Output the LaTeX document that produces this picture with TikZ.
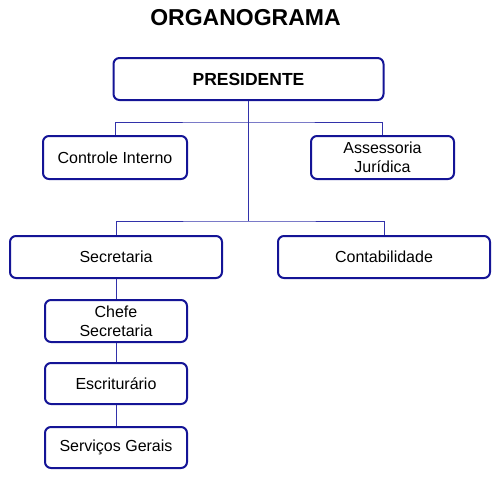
\documentclass[tikz,border=0pt]{standalone}
\usepackage{fontspec}
\setmainfont{Liberation Sans}
\definecolor{boxblue}{RGB}{20,20,150}
\definecolor{lineblue}{RGB}{50,50,170}
\begin{document}
\begin{tikzpicture}[x=1pt,y=-1pt,
  box/.style={draw=boxblue,line width=2pt,rounded corners=6pt,fill=white,
    inner sep=0pt,align=center,font=\fontsize{16}{19}\selectfont},
  conn/.style={draw=lineblue,line width=1pt}]
\useasboundingbox (0,0) rectangle (500,479);
\node[font=\fontsize{23}{26}\selectfont\bfseries] (title) at (245.5,17.5) {ORGANOGRAMA};
\node[box,minimum width=270pt,minimum height=42pt,font=\fontsize{17.5}{20}\selectfont\bfseries] (pres) at (248.5,79) {PRESIDENTE};
\node[box,minimum width=144pt,minimum height=43pt] (ctrl) at (115,157.5) {Controle Interno};
\node[box,minimum width=143pt,minimum height=43pt] (assess) at (382.5,157.5) {Assessoria\\Jurídica};
\node[box,minimum width=212pt,minimum height=42pt] (sec) at (116,257) {Secretaria};
\node[box,minimum width=212pt,minimum height=42pt] (cont) at (384,257) {Contabilidade};
\node[box,minimum width=142pt,minimum height=42pt] (chefe) at (116,321) {Chefe\\Secretaria};
\node[box,minimum width=142pt,minimum height=41pt] (escr) at (116,383.5) {Escriturário};
\node[box,minimum width=142pt,minimum height=41pt] (serv) at (116,447.5) {Serviços Gerais};
\coordinate (j1) at (248.5,122);
\coordinate (j2) at (248.5,221);
\begin{scope}[on background layer/.try]
\end{scope}
\draw[conn] (pres.south) -- (j2);
\draw[conn] (ctrl.north) |- (j1) -| (assess.north);
\draw[conn] (sec.north) |- (j2) -| (cont.north);
\draw[conn] (sec.south) -- (chefe.north);
\draw[conn] (chefe.south) -- (escr.north);
\draw[conn] (escr.south) -- (serv.north);
\end{tikzpicture}
\end{document}
